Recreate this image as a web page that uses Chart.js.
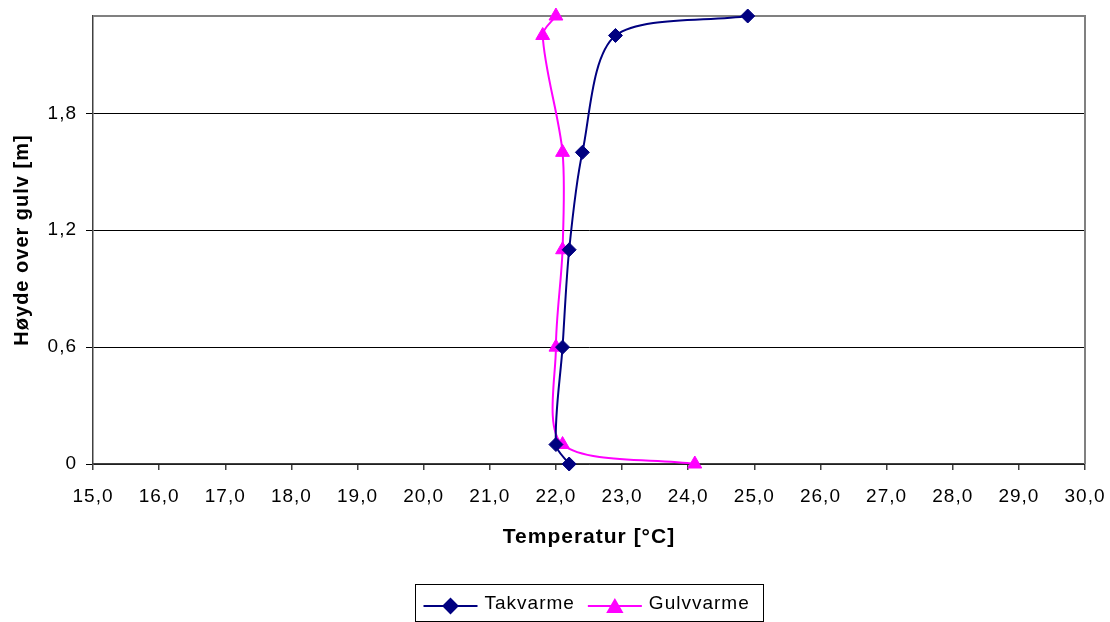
<!DOCTYPE html>
<html>
<head>
<meta charset="utf-8">
<title>Temperaturprofil</title>
<script src="https://cdn.jsdelivr.net/npm/chart.js@4"></script>
<style>
  html, body { margin: 0; padding: 0; background: #fff; }
  #wrap { width: 1110px; height: 622px; position: relative; }
</style>
</head>
<body>
<div id="wrap"><canvas id="c" width="1110" height="622"></canvas></div>
<script>
// Height above floor [m] for each measuring point
const heights = [0, 0.1, 0.6, 1.1, 1.6, 2.2, 2.3];
// Air temperature [°C] at those heights
const takvarme = [22.2, 22.0, 22.1, 22.2, 22.4, 22.9, 24.9];
const gulvvarme = [24.1, 22.1, 22.0, 22.1, 22.1, 21.8, 22.0];

const seriesNames = ['Takvarme', 'Gulvvarme'];
const yTicks = [0, 0.6, 1.2, 1.8];
const xRange = [15, 30];
const yRange = [0, 2.3];

const FONT = "'Liberation Sans', Arial, sans-serif";
const NAVY = '#000080';
const MAGENTA = '#FF00FF';

const fmt = v => (v === 0 ? '0' : v.toFixed(1).replace('.', ','));
const fmtX = v => v.toFixed(1).replace('.', ',');

function toPoints(xs) {
  return xs.map((x, i) => ({ x: x, y: heights[i] }));
}

// Slightly widened text, like the office-style chart rendering
const spacing = {
  id: 'spacing',
  beforeUpdate(chart) { chart.ctx.letterSpacing = '1px'; },
  beforeDraw(chart) { chart.ctx.letterSpacing = '1px'; }
};

// Grey frame on the top and right of the plot area
const frame = {
  id: 'frame',
  beforeDatasetsDraw(chart) {
    const { ctx, chartArea: a } = chart;
    ctx.save();
    ctx.strokeStyle = '#808080';
    ctx.lineWidth = 2;
    ctx.beginPath();
    ctx.moveTo(a.left, a.top);
    ctx.lineTo(a.right, a.top);
    ctx.lineTo(a.right, a.bottom);
    ctx.stroke();
    ctx.restore();
  }
};

// Boxed legend with line + marker samples, centred under the plot area
const boxLegend = {
  id: 'boxLegend',
  afterDraw(chart) {
    const { ctx, chartArea: a } = chart;
    ctx.save();
    ctx.letterSpacing = '1px';
    ctx.font = '19px ' + FONT;
    const lineLen = 54, gapText = 7, gapItem = 13, padL = 8, padR = 14;
    const items = chart.data.datasets.map(ds => ({
      ds, w: lineLen + gapText + ctx.measureText(ds.label).width
    }));
    const total = padL + padR + items.reduce((s, it) => s + it.w, 0) + gapItem * (items.length - 1);
    const cx = (a.left + a.right) / 2;
    const left = Math.round(cx - total / 2) + 0.5;
    const top = 584.5, h = 37;
    ctx.strokeStyle = '#000';
    ctx.lineWidth = 1;
    ctx.strokeRect(left, top, Math.round(total), h);
    const midY = 606;
    let x = left + padL;
    items.forEach(({ ds, w }) => {
      ctx.strokeStyle = ds.borderColor;
      ctx.lineWidth = 2;
      ctx.beginPath();
      ctx.moveTo(x, midY);
      ctx.lineTo(x + lineLen, midY);
      ctx.stroke();
      ctx.fillStyle = ds.pointBackgroundColor;
      ctx.strokeStyle = ds.pointBorderColor;
      Chart.helpers.drawPoint(ctx, {
        pointStyle: ds.pointStyle, radius: ds.pointRadius, borderWidth: 1, rotation: 0
      }, x + lineLen / 2, midY + (ds.pointStyle === 'triangle' ? 2 : 0));
      ctx.fillStyle = '#000';
      ctx.textBaseline = 'alphabetic';
      ctx.textAlign = 'left';
      ctx.fillText(ds.label, x + lineLen + gapText, 609);
      x += w + gapItem;
    });
    ctx.restore();
  }
};

new Chart(document.getElementById('c'), {
  type: 'scatter',
  data: {
    datasets: [
      {
        label: seriesNames[0],
        data: toPoints(takvarme),
        showLine: true,
        borderColor: NAVY,
        borderWidth: 2,
        backgroundColor: NAVY,
        pointBackgroundColor: NAVY,
        pointBorderColor: NAVY,
        pointStyle: 'rectRot',
        pointRadius: 7,
        pointBorderWidth: 1,
        tension: 0.3,
        clip: false
      },
      {
        label: seriesNames[1],
        data: toPoints(gulvvarme),
        showLine: true,
        borderColor: MAGENTA,
        borderWidth: 2,
        backgroundColor: MAGENTA,
        pointBackgroundColor: MAGENTA,
        pointBorderColor: MAGENTA,
        pointStyle: 'triangle',
        pointRadius: 8,
        pointBorderWidth: 1,
        tension: 0.3,
        clip: false
      }
    ]
  },
  options: {
    responsive: false,
    animation: false,
    devicePixelRatio: 1,
    layout: { padding: { left: 0, right: 25, top: 16, bottom: 72 } },
    plugins: {
      legend: { display: false },
      tooltip: { enabled: false }
    },
    scales: {
      x: {
        type: 'linear',
        min: xRange[0],
        max: xRange[1],
        afterFit(scale) {
          scale.height = 86;
          scale.paddingLeft = 0;
          scale.paddingRight = 0;
        },
        border: { display: true, color: '#404040', width: 1.5 },
        grid: { display: true, drawOnChartArea: false, drawTicks: true, tickLength: 6, color: '#404040', lineWidth: 1.5 },
        ticks: {
          stepSize: 1,
          padding: 15,
          maxRotation: 0,
          autoSkip: false,
          color: '#000',
          font: { family: FONT, size: 19 },
          callback: v => fmtX(v)
        },
        title: {
          display: true,
          text: 'Temperatur [°C]',
          color: '#000',
          padding: { top: 0, bottom: 0 },
          font: { family: FONT, size: 21, weight: 'bold' }
        }
      },
      y: {
        type: 'linear',
        min: yRange[0],
        max: yRange[1],
        afterFit(scale) {
          scale.width = 93;
          scale.paddingTop = 0;
          scale.paddingBottom = 0;
        },
        afterBuildTicks(scale) { scale.ticks = yTicks.map(v => ({ value: v })); },
        border: { display: true, color: '#404040', width: 1.5 },
        grid: { display: true, drawOnChartArea: true, drawTicks: true, tickLength: 7, color: '#000', lineWidth: 1 },
        ticks: {
          padding: 9,
          color: '#000',
          font: { family: FONT, size: 19 },
          callback: v => fmt(v)
        },
        title: {
          display: true,
          text: 'Høyde over gulv [m]',
          color: '#000',
          padding: { top: 10, bottom: 0 },
          font: { family: FONT, size: 20, weight: 'bold' }
        }
      }
    }
  },
  plugins: [spacing, frame, boxLegend]
});
</script>
</body>
</html>
